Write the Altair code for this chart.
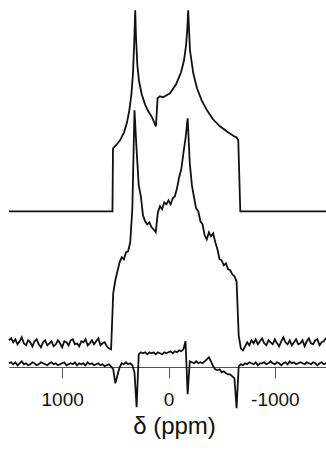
import altair as alt
import pandas as pd

# ---- data (intensity in arbitrary units) ----
# simulated spectrum: key points (ppm, height above its own baseline)
SIM_PPM = [1500, 527, 522, 494, 456, 418, 390, 367, 348, 334,
           322, 313, 306, 293, 277, 252, 221, 190, 155, 118,
           103, 80, 52, -14, -71, -118, -146, -165, -177, -185,
           -193, -202, -233, -268, -312, -362, -418, -484, -559, -616,
           -639, -656, -675, -1500]
SIM_H = [0, 0, 63, 66, 71, 79, 89, 102, 118, 138,
         170, 201, 175, 146, 130, 117, 107, 100, 94, 85,
         113, 115, 114, 118, 127, 139, 151, 166, 183, 201,
         181, 161, 138, 123, 111, 101, 92, 85, 79, 75,
         74, 71, 0, 0]

# experimental spectrum, sampled every 20 ppm
STEP = 20
EXP_LEFT_START = 1500   # 1500 .. 540
EXP_LEFT = [3, 5, 1, 4, -1, 2, 6, 0, -2, 3,
            1, -3, 2, 4, -1, -4, 1, 3, -2, 0,
            2, -3, -1, 3, 0, -4, 2, 1, -2, 3,
            4, -1, 0, -3, 2, 1, 4, -2, 0, 3,
            -1, 2, 5, -2, 0, 1, -3, -5, -6]
EXP_BODY_START = 520    # 520 .. -660
EXP_BODY = [50, 63, 72, 81, 86, 84, 91, 92, 101, 135,
            233, 193, 158, 147, 128, 122, 119, 121, 116, 114,
            111, 131, 137, 134, 141, 139, 143, 139, 145, 147,
            155, 166, 174, 190, 205, 225, 180, 158, 146, 135,
            132, 122, 119, 108, 104, 111, 107, 110, 101, 94,
            84, 83, 78, 80, 74, 73, 69, 67, 62, 8]
EXP_RIGHT_START = -680  # -680 .. -1500
EXP_RIGHT = [-5, -7, -3, 1, -2, 3, 0, 4, -1, 2,
             5, 0, -2, 3, 1, -1, 4, 0, -3, 2,
             6, 1, -1, 3, -2, 1, 4, -1, 0, 3,
             -3, 2, 5, 0, -1, 3, 4, -2, 1, 2,
             5, 3]

# difference spectrum (experimental - simulated), sampled every 20 ppm
DIFF_LEFT_START = 1500  # 1500 .. 580
DIFF_LEFT = [1, 2, 0, 2, -1, 1, 3, 0, 1, -1,
             0, 2, 1, -1, 0, 2, 1, 0, -1, 1,
             2, 0, 1, -1, 0, 1, 2, -1, 0, 1,
             0, 2, -1, 1, 0, 1, -1, 2, 0, 1,
             -1, 0, 1, -1, 0, -2, -1]
DIFF_BODY_START = 560   # 560 .. -660
DIFF_BODY = [0, -2, -5, -19, -11, -3, 1, 0, 2, 0,
             1, -1, -8, -43, 10, 12, 11, 12, 10, 12,
             11, 12, 10, 12, 11, 10, 12, 11, 12, 13,
             11, 13, 12, 14, 13, 15, 23, -30, 3, 2,
             1, 3, 1, 2, 1, 3, 5, 7, 3, -2,
             -5, -6, -5, -8, -7, -9, -10, -10, -12, -14,
             -44, -2]
DIFF_RIGHT_START = -680  # -680 .. -1500
DIFF_RIGHT = [0, -1, 1, 0, 2, 1, 0, 2, -1, 1,
              1, 2, 0, 1, 3, 1, 0, 2, 1, -1,
              1, 2, 0, 3, 1, 2, 0, 1, 2, 1,
              0, 2, 1, 0, 2, 1, -1, 1, 2, 0,
              1, 2]

assert len(EXP_LEFT) == 49 and len(EXP_BODY) == 60 and len(EXP_RIGHT) == 42
assert len(DIFF_LEFT) == 47 and len(DIFF_BODY) == 62 and len(DIFF_RIGHT) == 42

# vertical stacking offsets of the three traces
SIM_BASE = 155.7
EXP_BASE = 23.7
DIFF_BASE = 2.7

TICKS = [1000, 0, -1000]

rows = []
for i, (p, h) in enumerate(zip(SIM_PPM, SIM_H)):
    rows.append({"trace": "sim", "i": i, "ppm": p, "y": SIM_BASE + h})


def add_sampled(name, segments, base):
    k = 0
    for start, vals in segments:
        for j, v in enumerate(vals):
            rows.append({"trace": name, "i": k, "ppm": start - STEP * j, "y": base + v})
            k += 1


add_sampled("exp", [(EXP_LEFT_START, EXP_LEFT), (EXP_BODY_START, EXP_BODY),
                    (EXP_RIGHT_START, EXP_RIGHT)], EXP_BASE)
add_sampled("diff", [(DIFF_LEFT_START, DIFF_LEFT), (DIFF_BODY_START, DIFF_BODY),
                     (DIFF_RIGHT_START, DIFF_RIGHT)], DIFF_BASE)

df = pd.DataFrame(rows)

chart = alt.Chart(df).mark_line(strokeWidth=1.8, color="#111").encode(
    x=alt.X("ppm:Q",
            scale=alt.Scale(domain=[1500, -1481], nice=False, zero=False),
            axis=alt.Axis(values=TICKS, labelExpr="'' + datum.value",
                          title="δ (ppm)", grid=False,
                          domainColor="#555", domainWidth=1,
                          tickColor="#555", tickWidth=1, tickSize=11,
                          labelFont="Liberation Sans", labelFontSize=19,
                          labelColor="#111", labelPadding=12,
                          titleFont="Liberation Sans", titleFontSize=24,
                          titleFontWeight="normal", titleColor="#111",
                          titlePadding=5, titleX=165, titleAlign="center")),
    y=alt.Y("y:Q", scale=alt.Scale(domain=[0, 367], nice=False, zero=False),
            axis=None),
    detail="trace:N",
    order="i:Q",
).properties(
    width=317, height=367,
    autosize=alt.AutoSizeParams(type="none"),
    padding={"left": 9, "right": 0, "top": 0, "bottom": 87},
).configure_view(stroke=None)

chart.save("out.html", embed_options={"renderer": "svg", "actions": False})
